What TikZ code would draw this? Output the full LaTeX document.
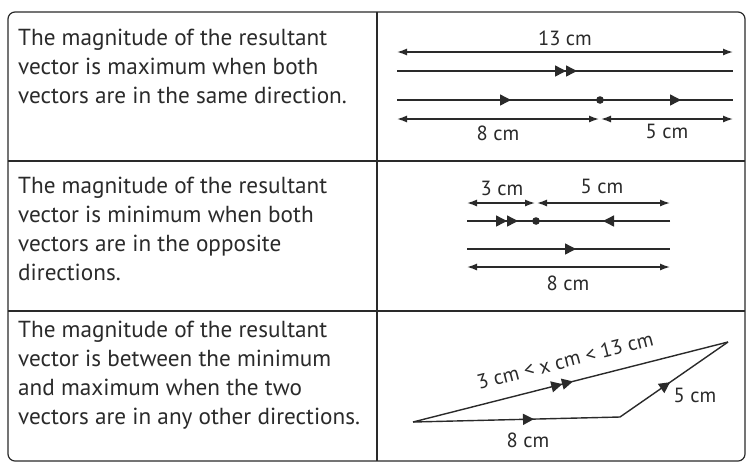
\documentclass[tikz,border=0pt]{standalone}
\usepackage{fontspec}
\setmainfont{PT Sans}
\usetikzlibrary{arrows.meta,positioning,decorations.markings}
\definecolor{ink}{HTML}{2A2A2A}

\begin{document}
\begin{tikzpicture}[x=1pt, y=-1pt, >={Latex[length=10pt,width=7pt]},
    frame/.style={draw=ink, line width=1.2pt},
    vec/.style={draw=ink, line width=1.4pt},
    dim/.style={draw=ink, line width=1.4pt, <->},
    head/.style={postaction={decorate, decoration={markings, mark=at position #1 with {\arrow{Triangle[length=11pt,width=11pt]}}}}},
    headtwo/.style={postaction={decorate, decoration={markings, mark=at position #1 with {\arrow{Triangle[length=11pt,width=11pt] Triangle[length=11pt,width=11pt]}}}}},
    cell/.style={anchor=base west, align=left, inner sep=0pt, font=\fontsize{23.2}{28.8}\selectfont, text=ink},
    lbl/.style={anchor=base, inner sep=0pt, font=\fontsize{20.5}{22}\selectfont, text=ink}]

    \useasboundingbox (0,0) rectangle (751,467);
    \fill[white] (0,0) rectangle (751,467);

    % table
    \draw[frame, rounded corners=7pt] (8,12) rectangle (745,461);
    \draw[frame] (377,12) -- (377,461);
    \draw[frame] (8,161) -- (745,161);
    \draw[frame] (8,311) -- (745,311);

    % left column (base = last line)
    \node[cell] (max) at (18,103) {The magnitude of the resultant\\vector is maximum when both\\vectors are in the same direction.};
    \node[cell] (min) at (18,280) {The magnitude of the resultant\\vector is minimum when both\\vectors are in the opposite\\directions.};
    \node[cell] (mid) at (18,424) {The magnitude of the resultant\\vector is between the minimum\\and maximum when the two\\vectors are in any other directions.};

    % same direction
    \coordinate (sa) at (397,52);   \coordinate (sb) at (733,52);
    \coordinate (ra) at (397,71);   \coordinate (rb) at (733,71);
    \coordinate (ca) at (397,100);  \coordinate (cm) at (600,100);  \coordinate (cb) at (733,100);
    \coordinate (da) at (397,119);  \coordinate (dm) at (600,119);  \coordinate (db) at (733,119);
    \draw[dim] (sa) -- (sb);
    \node[lbl] (l13) at (565,45) {13 cm};
    \draw[vec, headtwo=180pt] (ra) -- (rb);
    \draw[vec, head=114pt] (ca) -- (cm);
    \draw[vec, head=81pt] (cm) -- (cb);
    \fill[ink] (cm) circle (3.8pt);
    \draw[dim] (da) -- ([xshift=-1pt]dm);
    \draw[dim] ([xshift=1pt]dm) -- (db);
    \node[lbl] (l8a) at (498,140) {8 cm};
    \node[lbl] (l5a) at (667,138) {5 cm};

    % opposite directions
    \coordinate (ua) at (467,203);  \coordinate (um) at (536,203);  \coordinate (ub) at (670,203);
    \coordinate (va) at (467,221);  \coordinate (vm) at (536,221);  \coordinate (vb) at (670,221);
    \coordinate (wa) at (467,249);  \coordinate (wb) at (670,249);
    \coordinate (za) at (467,267);  \coordinate (zb) at (670,267);
    \draw[dim] (ua) -- ([xshift=-1pt]um);
    \draw[dim] ([xshift=1pt]um) -- (ub);
    \node[lbl] (l3b) at (502,195) {3 cm};
    \node[lbl] (l5b) at (602,193) {5 cm};
    \draw[vec, headtwo=51pt] (va) -- (vm);
    \draw[vec, head=67pt] (vb) -- (vm);
    \fill[ink] (vm) circle (3.8pt);
    \draw[vec, head=109pt] (wa) -- (wb);
    \draw[dim] (za) -- (zb);
    \node[lbl] (l8b) at (568,290) {8 cm};

    % other directions
    \coordinate (ta) at (413,422);
    \coordinate (tb) at (620,417);
    \coordinate (tc) at (728,342);
    \draw[vec, head=121pt] (ta) -- (tb);
    \draw[vec, head=61pt] (tb) -- (tc);
    \draw[vec, headtwo=165pt] (ta) -- (tc)
        node[lbl, midway, sloped, anchor=base, yshift=15pt] (lx) {3 cm < x cm < 13 cm};
    \node[lbl] (l5c) at (695,402) {5 cm};
    \node[lbl] (l8c) at (528,447) {8 cm};
\end{tikzpicture}
\end{document}
